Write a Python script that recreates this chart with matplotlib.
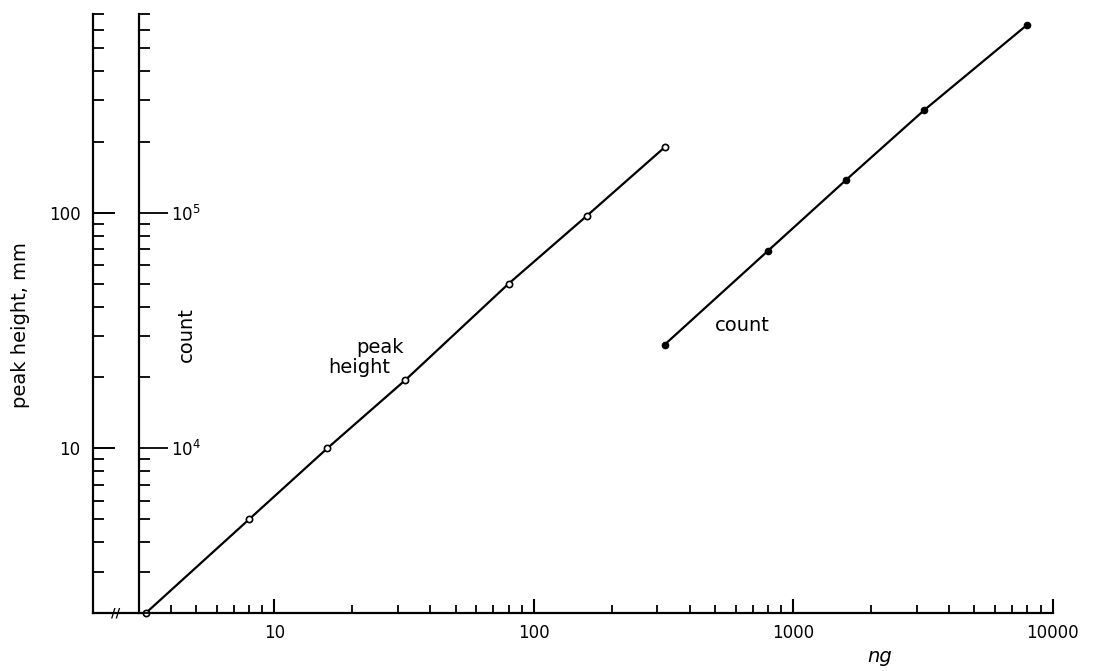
import matplotlib
matplotlib.use("Agg")
import matplotlib.pyplot as plt
from matplotlib.ticker import FixedLocator, NullFormatter, LogLocator

# peak height series (open circles), ng vs mm
peak_ng = [3.2, 8, 16, 32, 80, 160, 320]
peak_mm = [2.0, 5.0, 10.0, 19.5, 50, 97, 190]

# count series (filled dots), ng vs counts
count_ng = [320, 800, 1600, 3200, 8000]
count_val = [27600, 69000, 138000, 273000, 630000]

x_ticks = [10, 100, 1000, 10000]
x_labels = ["10", "100", "1000", "10000"]
peak_ticks = [10, 100]
peak_labels = ["10", "100"]
count_ticks = [1e4, 1e5]
count_labels = ["$10^4$", "$10^5$"]

plt.rcParams['mathtext.default'] = 'regular'

fig = plt.figure(figsize=(10.93, 6.71), dpi=100)
ax = fig.add_axes([0.085, 0.0864, 0.878, 0.893])
ax.set_xscale('log')
ax.set_yscale('log')
ax.set_xlim(2, 10000)
ax.set_ylim(2, 700)
ax.spines['top'].set_visible(False)
ax.spines['right'].set_visible(False)
for s in ['left', 'bottom']:
    ax.spines[s].set_linewidth(1.6)

ax.xaxis.set_major_locator(FixedLocator(x_ticks))
ax.set_xticklabels(x_labels)
ax.xaxis.set_minor_locator(LogLocator(base=10, subs=range(2, 10)))
ax.xaxis.set_minor_formatter(NullFormatter())
ax.yaxis.set_major_locator(FixedLocator(peak_ticks))
ax.set_yticklabels(peak_labels)
ax.yaxis.set_minor_locator(LogLocator(base=10, subs=range(2, 10)))
ax.yaxis.set_minor_formatter(NullFormatter())
ax.tick_params(axis='x', which='major', direction='in', length=10, width=1.5,
               labelsize=12, pad=8)
ax.tick_params(axis='x', which='minor', direction='in', length=6, width=1.3)
ax.tick_params(axis='y', which='major', direction='in', length=16, width=1.4,
               labelsize=12, pad=9)
ax.tick_params(axis='y', which='minor', direction='in', length=8, width=1.3)

# count axis, drawn as a second spine at x = 3
ax2 = ax.twinx()
ax2.set_yscale('log')
ax2.set_ylim(2000, 700000)
for s in ['top', 'left', 'bottom']:
    ax2.spines[s].set_visible(False)
ax2.spines['right'].set_position(('data', 3))
ax2.spines['right'].set_linewidth(1.6)
ax2.yaxis.set_major_locator(FixedLocator(count_ticks))
ax2.set_yticklabels(count_labels)
ax2.yaxis.set_minor_locator(LogLocator(base=10, subs=range(2, 10)))
ax2.yaxis.set_minor_formatter(NullFormatter())
ax2.tick_params(axis='y', which='major', direction='out', length=21, width=1.3,
                labelsize=12, pad=2)
ax2.tick_params(axis='y', which='minor', direction='out', length=8, width=1.3)

ax.plot(peak_ng, peak_mm, color='black', lw=1.6, marker='o', ms=4.5,
        mfc='white', mec='black', mew=1.2, clip_on=False, zorder=3)
ax2.plot(count_ng, count_val, color='black', lw=1.6, marker='o', ms=4.5,
         mfc='black', mec='black', clip_on=False, zorder=3)

ax.text(25.6, 26.8, "peak", fontsize=14, ha='center', va='center')
ax.text(21.3, 22.0, "height", fontsize=14, ha='center', va='center')
ax.text(635, 33.3, "count", fontsize=14, ha='center', va='center')

ax.text(-0.075, 0.48, "peak height, mm", transform=ax.transAxes, rotation=90,
        fontsize=14, ha='center', va='center')
ax.text(0.097, 0.465, "count", transform=ax.transAxes, rotation=90,
        fontsize=14, ha='center', va='center')
ax.text(0.82, -0.072, "ng", transform=ax.transAxes, fontsize=14,
        fontstyle='italic', ha='center', va='center')

# axis break mark
ax.text(0.024, 0.0, "//", transform=ax.transAxes, fontsize=9,
        ha='center', va='center', fontweight='bold')

fig.savefig("out.png", dpi=100)
